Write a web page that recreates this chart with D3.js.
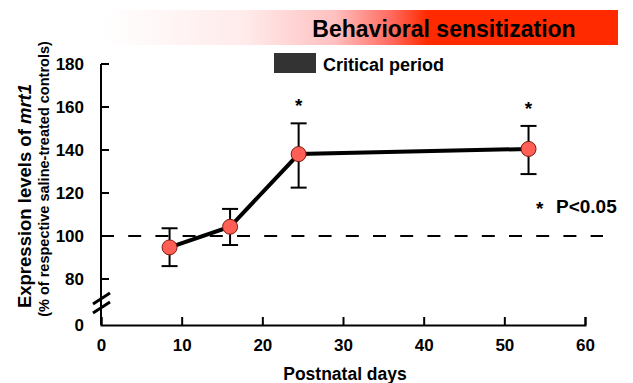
<!DOCTYPE html>
<html>
<head>
<meta charset="utf-8">
<script src="https://cdn.jsdelivr.net/npm/d3@7"></script>
<style>
  body { margin: 0; background: #fff; }
  svg text { font-family: "Liberation Sans", Arial, sans-serif; font-weight: bold; fill: #000; }
</style>
</head>
<body>
<svg id="chart" width="633" height="383"></svg>
<script>
// postnatal day of each measurement
var days = [8.5, 16, 24.5, 53];
// expression (% of saline controls)
var means = [94.7, 104.3, 138.1, 140.5];
var errUp = [103.6, 112.6, 152.4, 151.2];
var errDown = [86.0, 95.8, 122.5, 128.8];
var significant = [false, false, true, true];

var xTicks = [0, 10, 20, 30, 40, 50, 60];
var yTicks = [80, 100, 120, 140, 160, 180];

var svg = d3.select("#chart");

// x scale is plain linear, y axis has a break between 0 and 80
var x = d3.scaleLinear().domain([0, 60]).range([101, 585]);
var y = d3.scaleLinear().domain([80, 180]).range([279, 64]);
var yBottom = 325;

// banner
var defs = svg.append("defs");
var grad = defs.append("linearGradient").attr("id", "banner");
grad.append("stop").attr("offset", "0%").attr("stop-color", "#ffffff");
grad.append("stop").attr("offset", "28%").attr("stop-color", "#ffeaea");
grad.append("stop").attr("offset", "45%").attr("stop-color", "#ffc0c0");
grad.append("stop").attr("offset", "56%").attr("stop-color", "#ff6a5e");
grad.append("stop").attr("offset", "63%").attr("stop-color", "#ff2a00");
grad.append("stop").attr("offset", "100%").attr("stop-color", "#ff2a00");

svg.append("rect")
  .attr("x", 103).attr("y", 10)
  .attr("width", 515).attr("height", 35)
  .attr("fill", "url(#banner)");

svg.append("text")
  .attr("x", 444).attr("y", 37)
  .attr("text-anchor", "middle")
  .style("font-size", "23px")
  .text("Behavioral sensitization");

// legend
svg.append("rect")
  .attr("x", 274).attr("y", 53)
  .attr("width", 42).attr("height", 20)
  .attr("fill", "#333");
svg.append("text")
  .attr("x", 323).attr("y", 71)
  .style("font-size", "18px")
  .text("Critical period");

// axes
var xAxis = d3.axisBottom(x).tickValues(xTicks).tickSize(-8).tickPadding(14).tickSizeOuter(-8);
var gx = svg.append("g")
  .attr("transform", "translate(0," + yBottom + ")")
  .call(xAxis);
gx.select(".domain").attr("stroke-width", 2);
gx.selectAll(".tick line").attr("stroke-width", 2);
gx.selectAll(".tick text")
  .style("font-size", "17px")
  .style("font-family", "Liberation Sans, Arial, sans-serif")
  .style("font-weight", "bold");

var gy = svg.append("g").attr("transform", "translate(101,0)");
gy.append("line")
  .attr("x1", 0).attr("x2", 0)
  .attr("y1", y(180)).attr("y2", yBottom)
  .attr("stroke", "#000").attr("stroke-width", 2);
gy.append("line")
  .attr("x1", 0).attr("x2", 8)
  .attr("y1", y(180)).attr("y2", y(180))
  .attr("stroke", "#000").attr("stroke-width", 2);
var yt = gy.selectAll("g.ytick").data(yTicks).enter().append("g")
  .attr("class", "ytick")
  .attr("transform", function(d) { return "translate(0," + y(d) + ")"; });
yt.append("line")
  .attr("x1", 0).attr("x2", 8)
  .attr("stroke", "#000").attr("stroke-width", 2);
yt.append("text")
  .attr("x", -17).attr("dy", "0.35em")
  .attr("text-anchor", "end")
  .style("font-size", "17px")
  .text(function(d) { return d; });
gy.append("text")
  .attr("x", -17).attr("y", yBottom).attr("dy", "0.35em")
  .attr("text-anchor", "end")
  .style("font-size", "17px")
  .text("0");

// axis break
var brk = svg.append("g").attr("stroke", "#000").attr("stroke-width", 3);
brk.append("line").attr("x1", 93).attr("y1", 304).attr("x2", 110).attr("y2", 293);
brk.append("line").attr("x1", 93).attr("y1", 313).attr("x2", 110).attr("y2", 302);

// axis titles
svg.append("text")
  .attr("x", 345).attr("y", 380)
  .attr("text-anchor", "middle")
  .style("font-size", "17.5px")
  .text("Postnatal days");

var yTitle = svg.append("text")
  .attr("transform", "translate(31,196) rotate(-90)")
  .attr("text-anchor", "middle")
  .style("font-size", "18.5px");
yTitle.append("tspan").text("Expression levels of ");
yTitle.append("tspan").style("font-style", "italic").text("mrt1");

svg.append("text")
  .attr("transform", "translate(49,179) rotate(-90)")
  .attr("text-anchor", "middle")
  .style("font-size", "14.5px")
  .text("(% of respective saline-treated controls)");

// 100% reference line
svg.append("line")
  .attr("x1", x(0)).attr("x2", 603)
  .attr("y1", y(100)).attr("y2", y(100))
  .attr("stroke", "#000").attr("stroke-width", 2)
  .attr("stroke-dasharray", "13,14.2");

var pts = days.map(function(d, i) {
  return { day: d, mean: means[i], up: errUp[i], down: errDown[i], sig: significant[i] };
});

// error bars
var eb = svg.append("g").attr("stroke", "#000").attr("stroke-width", 2);
eb.selectAll("line.v").data(pts).enter().append("line")
  .attr("x1", function(d) { return x(d.day); })
  .attr("x2", function(d) { return x(d.day); })
  .attr("y1", function(d) { return y(d.up); })
  .attr("y2", function(d) { return y(d.down); });
eb.selectAll("line.top").data(pts).enter().append("line")
  .attr("x1", function(d) { return x(d.day) - 8; })
  .attr("x2", function(d) { return x(d.day) + 8; })
  .attr("y1", function(d) { return y(d.up); })
  .attr("y2", function(d) { return y(d.up); });
eb.selectAll("line.bot").data(pts).enter().append("line")
  .attr("x1", function(d) { return x(d.day) - 8; })
  .attr("x2", function(d) { return x(d.day) + 8; })
  .attr("y1", function(d) { return y(d.down); })
  .attr("y2", function(d) { return y(d.down); });

// mean line
var line = d3.line()
  .x(function(d) { return x(d.day); })
  .y(function(d) { return y(d.mean); });
svg.append("path")
  .datum(pts)
  .attr("d", line)
  .attr("fill", "none")
  .attr("stroke", "#000")
  .attr("stroke-width", 4);

svg.selectAll("circle.pt").data(pts).enter().append("circle")
  .attr("class", "pt")
  .attr("cx", function(d) { return x(d.day); })
  .attr("cy", function(d) { return y(d.mean); })
  .attr("r", 7.5)
  .attr("fill", "#ff5f55")
  .attr("stroke", "#7a1a10")
  .attr("stroke-width", 1);

// significance stars
svg.selectAll("text.star").data(pts.filter(function(d) { return d.sig; })).enter().append("text")
  .attr("x", function(d) { return x(d.day); })
  .attr("y", function(d) { return y(d.up) - 11; })
  .attr("text-anchor", "middle")
  .style("font-size", "19px")
  .text("*");

svg.append("text")
  .attr("x", 536).attr("y", 215)
  .style("font-size", "19px")
  .text("*");
svg.append("text")
  .attr("x", 556).attr("y", 213)
  .style("font-size", "19px")
  .text("P<0.05");
</script>
</body>
</html>
